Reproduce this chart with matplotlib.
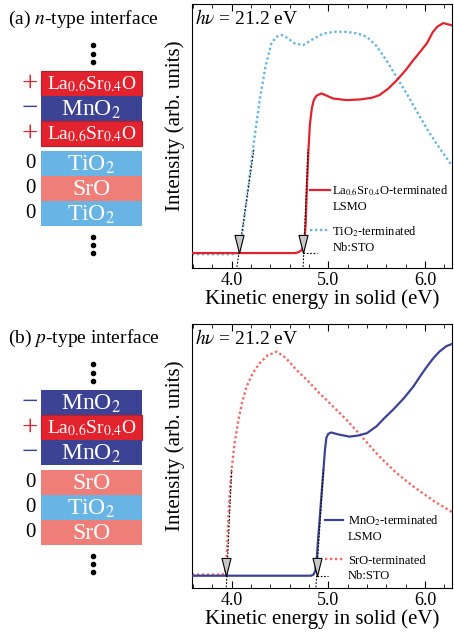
import matplotlib.pyplot as plt
from matplotlib.patches import Rectangle
from matplotlib.ticker import MultipleLocator

plt.rcParams['font.family'] = ['Liberation Serif', 'DejaVu Serif']
plt.rcParams['mathtext.fontset'] = 'stix'

RED = '#e2232e'
NAVY = '#3c4395'
SKY = '#68b4e4'
SALMON = '#ef7e79'
DOTRED = '#f06a6a'

LSO = r'La$_{0.6}$Sr$_{0.4}$O'
MNO = r'MnO$_2$'
TIO = r'TiO$_2$'
SRO = 'SrO'
layer_color = {LSO: RED, MNO: NAVY, TIO: SKY, SRO: SALMON}
charge_color = {'+': RED, '\u2212': NAVY, '0': 'black'}

# layer stacks, top to bottom
layers_a = [LSO, MNO, LSO, TIO, SRO, TIO]
charges_a = ['+', '\u2212', '+', '0', '0', '0']
layers_b = [MNO, LSO, MNO, SRO, TIO, SRO]
charges_b = ['\u2212', '+', '\u2212', '0', '0', '0']

# (a) spectra: kinetic energy (eV), intensity (arb.)
e_lso = [3.59, 4.5, 4.66, 4.70, 4.73, 4.75, 4.765, 4.78, 4.795, 4.81, 4.83, 4.85, 4.88, 4.93,
         4.98, 5.05, 5.19, 5.33, 5.45, 5.53, 5.62, 5.71, 5.80, 5.88, 5.95, 6.02, 6.08, 6.13, 6.19, 6.28]
i_lso = [0, 0, 0, 0.005, 0.015, 0.04, 0.12, 0.3, 0.45, 0.56, 0.63, 0.665, 0.685, 0.694,
         0.685, 0.672, 0.665, 0.668, 0.675, 0.687, 0.715, 0.752, 0.795, 0.839, 0.875, 0.912, 0.96, 0.985, 1.0, 0.99]
e_tio = [3.59, 4.0, 4.08, 4.10, 4.155, 4.22, 4.29, 4.35, 4.41, 4.46, 4.52, 4.58, 4.65, 4.74, 4.84,
         4.95, 5.07, 5.19, 5.30, 5.40, 5.50, 5.60, 5.70, 5.81, 5.93, 6.05, 6.17, 6.28]
i_tio = [-0.005, -0.005, 0.0, 0.05, 0.23, 0.45, 0.665, 0.81, 0.91, 0.94, 0.948, 0.935, 0.912, 0.904, 0.93,
         0.955, 0.962, 0.962, 0.955, 0.94, 0.90, 0.839, 0.77, 0.694, 0.605, 0.52, 0.445, 0.38]

# (b) spectra
e_mno = [3.59, 4.5, 4.82, 4.845, 4.865, 4.88, 4.895, 4.91, 4.93, 4.95, 4.965, 4.98, 5.0, 5.03, 5.1,
         5.22, 5.31, 5.40, 5.5, 5.58, 5.67, 5.78, 5.88, 5.95, 6.02, 6.09, 6.15, 6.22, 6.28]
i_mno = [0, 0, 0, 0.004, 0.02, 0.07, 0.16, 0.24, 0.35, 0.457, 0.54, 0.595, 0.612, 0.618, 0.61,
         0.60, 0.605, 0.615, 0.645, 0.68, 0.716, 0.765, 0.816, 0.86, 0.902, 0.94, 0.967, 0.99, 1.0]
e_sro = [3.59, 3.9, 3.93, 3.945, 3.955, 3.965, 3.98, 4.0, 4.03, 4.07, 4.11, 4.155, 4.22, 4.29, 4.37,
         4.465, 4.56, 4.67, 4.79, 4.91, 5.05, 5.19, 5.33, 5.43, 5.53, 5.7, 5.88, 6.1, 6.28]
i_sro = [0.005, 0.005, 0.01, 0.05, 0.14, 0.24, 0.35, 0.457, 0.57, 0.672, 0.75, 0.816, 0.875, 0.917, 0.95,
         0.967, 0.94, 0.888, 0.84, 0.787, 0.73, 0.672, 0.608, 0.56, 0.514, 0.445, 0.385, 0.32, 0.275]

# onset markers and linear extrapolations
onsets_a = [4.075, 4.74]
onsets_b = [3.945, 4.88]
fits_a = [([4.055, 4.23], [-0.06, 0.45]), ([4.74, 4.79], [-0.06, 0.45]), ([4.74, 4.88], [0, 0])]
fits_b = [([3.945, 4.0], [-0.05, 0.457]), ([4.872, 4.95], [-0.05, 0.457]), ([4.88, 5.0], [0, 0])]

fig = plt.figure(figsize=(4.54, 6.32), dpi=100)

# schematic layer stacks (pixel coordinates)
axl = fig.add_axes([0, 0, 1, 1])
axl.set_xlim(0, 454)
axl.set_ylim(632, 0)
axl.axis('off')


def stack(y0, title, layers, charges):
    axl.text(8, y0 - 52, title, fontsize=14, va='center', ha='left')
    h, gap = 25, 5
    ys = []
    for i, (name, q) in enumerate(zip(layers, charges)):
        y = y0 + i * h + (gap if i >= 3 else 0)
        ys.append(y)
        ec = '#c01a25' if name == LSO else 'none'
        axl.add_patch(Rectangle((41, y), 101, h, facecolor=layer_color[name], edgecolor=ec, lw=0.8))
        fs = 14 if name == LSO else 17
        axl.text(91.5, y + h / 2 + 1, name, color='white', fontsize=fs, ha='center', va='center')
        axl.text(30, y + h / 2, q, color=charge_color[q], fontsize=15 if q == '0' else 21,
                 ha='center', va='center')
    top, bot = ys[0], ys[-1] + h
    axl.plot([93] * 3, [top - 26, top - 17.5, top - 9], 'o', color='black', ms=3)
    axl.plot([93] * 3, [bot + 11, bot + 19, bot + 27], 'o', color='black', ms=3)


stack(71, r'(a) $n$-type interface', layers_a, charges_a)
stack(390, r'(b) $p$-type interface', layers_b, charges_b)

tri = [(0, 0), (-0.25, 1.0), (0.25, 1.0), (0, 0)]


def panel(rect, ylim, xs, ys, styles, labels, onsets, fits, leg_pos):
    ax = fig.add_axes(rect)
    ax.set_xlim(3.59, 6.28)
    ax.set_ylim(*ylim)
    for x, y, st in zip(xs, ys, styles):
        ax.plot(x, y, **st)
    for fx, fy in fits:
        ax.plot(fx, fy, color='black', lw=0.8, ls=(0, (1.5, 1.5)), zorder=4)
    ax.plot(onsets, [0] * len(onsets), ls='none', marker=tri, ms=26,
            mfc='#c8c8c8', mec='black', mew=0.8, zorder=5)
    ax.xaxis.set_major_locator(MultipleLocator(1.0))
    ax.xaxis.set_minor_locator(MultipleLocator(0.2))
    ax.xaxis.set_major_formatter('{x:.1f}')
    ax.tick_params(which='both', direction='in', top=True, left=False, labelleft=False,
                   labelsize=13, pad=3)
    ax.tick_params(which='major', length=5)
    ax.tick_params(which='minor', length=3)
    ax.set_xlabel('Kinetic energy in solid (eV)', fontsize=15, labelpad=0)
    ax.set_ylabel('Intensity (arb. units)', fontsize=15)
    ax.yaxis.set_label_coords(-0.028, 0.54)
    ax.text(0.012, 0.945, r'$h\nu$ = 21.2 eV', transform=ax.transAxes, fontsize=14,
            ha='left', va='center')
    # legend drawn by hand so the handle sits on the first label line
    hx0, hx1, tx = leg_pos[0]
    for (hy, ty), st, lab in zip(leg_pos[1:], styles, labels):
        ax.plot([hx0, hx1], [hy, hy], transform=ax.transAxes, clip_on=False, **st)
        ax.text(tx, ty, lab, transform=ax.transAxes, fontsize=9, ha='left', va='center',
                linespacing=1.35)
    return ax


panel([192 / 454, 1 - 268 / 632, 260 / 454, 264 / 632], (-0.065, 1.083),
      [e_lso, e_tio], [i_lso, i_tio],
      [dict(color=RED, lw=1.6, zorder=3), dict(color=SKY, lw=1.7, ls=(0, (1, 1.1)), zorder=2)],
      [LSO + '-terminated\nLSMO', TIO + '-terminated\nNb:STO'],
      onsets_a, fits_a,
      [(0.455, 0.532, 0.54), (0.295, 0.265), (0.144, 0.11)])

panel([192 / 454, 1 - 588 / 632, 260 / 454, 264 / 632], (-0.053, 1.086),
      [e_mno, e_sro], [i_mno, i_sro],
      [dict(color=NAVY, lw=1.6, zorder=3), dict(color=DOTRED, lw=1.7, ls=(0, (1, 1.1)), zorder=2)],
      [MNO + '-terminated\nLSMO', 'SrO-terminated\nNb:STO'],
      onsets_b, fits_b,
      [(0.512, 0.581, 0.6), (0.258, 0.226), (0.109, 0.074)])

fig.savefig('out.png', dpi=100)
